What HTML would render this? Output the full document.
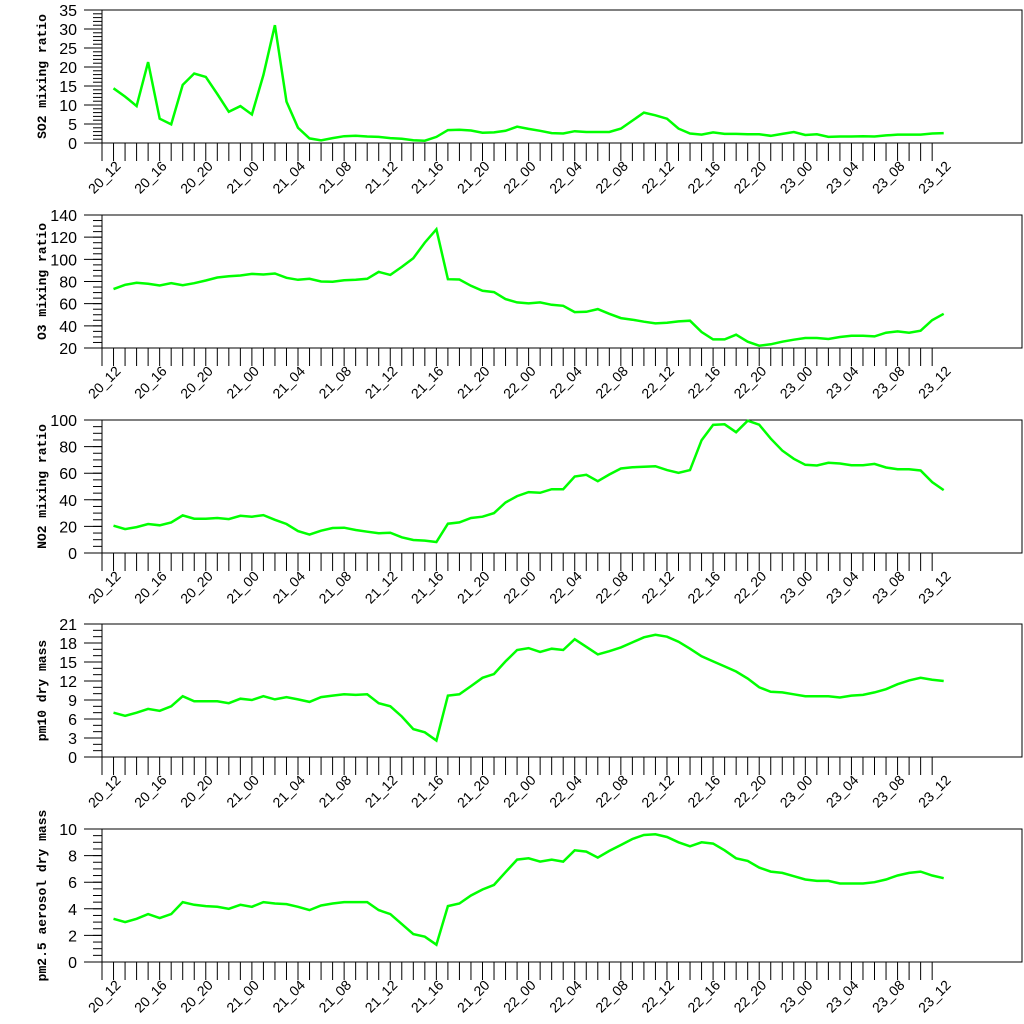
<!DOCTYPE html>
<html><head><meta charset="utf-8"><style>
html,body{margin:0;padding:0;background:#fff;}
svg{display:block;}
</style></head><body>
<svg id="chart" width="1024" height="1024" xmlns="http://www.w3.org/2000/svg"></svg>
<script>
const timeLabels = ["20_12","20_16","20_20","21_00","21_04","21_08","21_12","21_16","21_20","22_00","22_04","22_08","22_12","22_16","22_20","23_00","23_04","23_08","23_12"];
const so2Values = [14.4,12.2,9.7,21.3,6.4,4.9,15.3,18.3,17.4,12.9,8.2,9.7,7.5,17.9,31,10.9,4.0,1.2,0.7,1.3,1.8,1.9,1.7,1.6,1.3,1.1,0.7,0.6,1.6,3.4,3.5,3.3,2.7,2.8,3.2,4.3,3.7,3.2,2.6,2.5,3.1,2.9,2.9,2.9,3.8,5.9,8.0,7.3,6.4,3.8,2.5,2.2,2.8,2.4,2.4,2.3,2.3,1.9,2.4,2.9,2.1,2.3,1.6,1.7,1.7,1.8,1.7,2.0,2.2,2.2,2.2,2.5,2.6];
const o3Values = [73.1,77,78.8,77.9,76.4,78.5,76.7,78.5,80.9,83.6,84.8,85.4,86.9,86.3,87.2,83.3,81.5,82.4,80,79.7,81.2,81.5,82.4,88.7,86,93.2,101,115.1,127.1,82.1,81.8,76.1,71.6,70.4,64.1,61.1,60.2,61.1,59,58.1,52.4,52.7,55.1,50.9,47,45.5,43.7,42.2,42.8,44,44.6,34.4,27.8,27.8,32,25.7,22.1,23.3,25.7,27.5,29,29,28.1,29.9,31.1,31.1,30.5,33.8,35,33.8,35.6,45.2,50.9];
const no2Values = [20.5,18,19.5,21.8,20.8,23,28.3,25.8,25.8,26.3,25.5,28,27.3,28.5,25,21.8,16.5,13.8,16.8,18.8,19,17.3,16,14.8,15.3,11.8,9.8,9.3,8.3,22,23,26.3,27.3,30,38,42.8,45.8,45.3,48,48,57.5,58.8,54,59,63.5,64.5,64.8,65.3,62.3,60.3,62.3,84.8,96.3,96.8,90.8,99.5,96.5,86,77,70.8,66.3,65.8,67.8,67.3,66,66,67,64.3,63,63,62,53.3,47.3];
const pm10Values = [7.0,6.5,7.0,7.6,7.3,8.0,9.6,8.8,8.8,8.8,8.5,9.2,9.0,9.6,9.1,9.45,9.1,8.7,9.45,9.7,9.9,9.8,9.9,8.5,8.0,6.4,4.4,3.9,2.6,9.7,9.9,11.2,12.5,13.1,15.1,16.9,17.2,16.6,17.1,16.9,18.6,17.4,16.2,16.7,17.3,18.1,18.9,19.3,19.0,18.2,17.1,15.9,15.1,14.3,13.5,12.4,11.0,10.3,10.2,9.9,9.6,9.6,9.6,9.4,9.7,9.8,10.2,10.7,11.5,12.1,12.5,12.2,12.0];
const pm25Values = [3.25,3.0,3.25,3.6,3.3,3.6,4.5,4.3,4.2,4.15,4.0,4.3,4.15,4.5,4.4,4.35,4.15,3.9,4.25,4.4,4.5,4.5,4.5,3.9,3.6,2.85,2.1,1.9,1.3,4.2,4.4,5.0,5.45,5.8,6.75,7.7,7.8,7.55,7.7,7.55,8.4,8.3,7.85,8.35,8.8,9.25,9.55,9.6,9.4,9.0,8.7,9.0,8.9,8.4,7.8,7.6,7.1,6.8,6.7,6.45,6.2,6.1,6.1,5.9,5.9,5.9,6.0,6.2,6.5,6.7,6.8,6.5,6.3];
const so2Ticks = [0,5,10,15,20,25,30,35];
const o3Ticks = [20,40,60,80,100,120,140];
const no2Ticks = [0,20,40,60,80,100];
const pm10Ticks = [0,3,6,9,12,15,18,21];
const pm25Ticks = [0,2,4,6,8,10];

const NS = "http://www.w3.org/2000/svg";
const svg = document.getElementById("chart");
function mk(tag, attrs, parent){const e=document.createElementNS(NS,tag);for(const k in attrs)e.setAttribute(k,attrs[k]);(parent||svg).appendChild(e);return e;}

const X0 = 102, X1 = 1022, STEP = 11.53;
function xIndex(i){ return X0 + STEP*(i+1); }

const panels = [
 {key:"so2", title:"SO2 mixing ratio", vals:so2Values, ticks:so2Ticks, minorStep:1, top:10, bot:143},
 {key:"o3", title:"O3 mixing ratio", vals:o3Values, ticks:o3Ticks, minorStep:5, top:215, bot:348},
 {key:"no2", title:"NO2 mixing ratio", vals:no2Values, ticks:no2Ticks, minorStep:5, top:420, bot:553},
 {key:"pm10", title:"pm10 dry mass", vals:pm10Values, ticks:pm10Ticks, minorStep:1, top:624, bot:757},
 {key:"pm25", title:"pm2.5 aerosol dry mass", vals:pm25Values, ticks:pm25Ticks, minorStep:0.5, top:829, bot:962}
];

panels.forEach(p=>{
  const g = mk("g",{});
  
  
  const vmin = p.ticks[0], vmax = p.ticks[p.ticks.length-1];
  const y = v => p.bot - (v - vmin)/(vmax - vmin)*(p.bot - p.top);
  // minor y ticks
  for(let v=vmin; v<=vmax+1e-9; v+=p.minorStep){
    const t = mk("line",{x1:93,x2:X0,y1:y(v),y2:y(v),stroke:"#000","stroke-width":1},g);
    
    
  }
  p.ticks.forEach(v=>{
    const t = mk("line",{x1:84,x2:X0,y1:y(v),y2:y(v),stroke:"#000","stroke-width":1},g);
    
    
    const l = mk("text",{x:77,y:y(v)+6,"text-anchor":"end","font-family":"Liberation Sans, sans-serif","font-size":16},g);
    l.textContent = v;
    
    
  });
  // x ticks
  for(let i=0;i<=72;i++){
    const x = X0 + STEP*i;
    const t = mk("line",{x1:x,x2:x,y1:p.bot,y2:p.bot+18,stroke:"#000","stroke-width":1},g);
    
    
  }
  timeLabels.forEach((lab,k)=>{
    const x = xIndex(k*4);
    const tx = x+8, ty = p.bot+24;
    const l = mk("text",{x:tx,y:ty,"text-anchor":"end","font-family":"Liberation Sans, sans-serif","font-size":14,transform:`rotate(-45 ${tx} ${ty})`},g);
    l.textContent = lab;
    
    
  });
  // frame
  const fr = mk("rect",{x:X0,y:p.top,width:X1-X0,height:p.bot-p.top,fill:"none",stroke:"#000","stroke-width":1},g);
  
  
  // series
  const pts = p.vals.map((v,i)=>xIndex(i).toFixed(1)+","+y(v).toFixed(1)).join(" ");
  const pl = mk("polyline",{points:pts,fill:"none",stroke:"#00ff00","stroke-width":2.5,"stroke-linejoin":"miter"},g);
  
  
  // title
  const cy = (p.top+p.bot)/2, cx = 46;
  const tt = mk("text",{x:cx,y:cy,"text-anchor":"middle","font-family":"Liberation Mono, monospace","font-weight":"bold","font-size":13,transform:`rotate(-90 ${cx} ${cy})`},g);
  tt.textContent = p.title;
  
  
});
</script>
</body></html>
